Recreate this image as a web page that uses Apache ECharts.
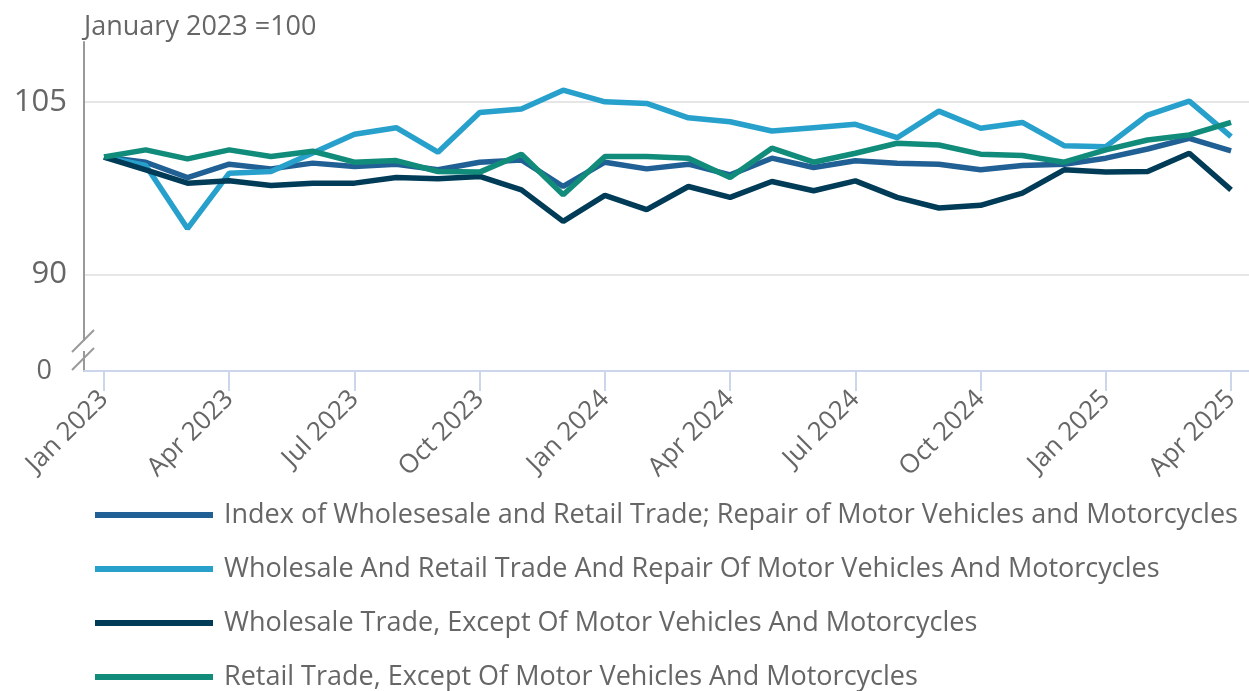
<!DOCTYPE html>
<html>
<head>
<meta charset="utf-8">
<script src="https://cdn.jsdelivr.net/npm/echarts@6/dist/echarts.min.js"></script>
<style>
  html, body { margin: 0; padding: 0; background: #fff; }
  #chart { width: 1249px; height: 691px; }
</style>
</head>
<body>
<div id="chart"></div>
<script>
var months = [
  'Jan 2023', 'Feb 2023', 'Mar 2023', 'Apr 2023', 'May 2023', 'Jun 2023', 'Jul 2023',
  'Aug 2023', 'Sep 2023', 'Oct 2023', 'Nov 2023', 'Dec 2023', 'Jan 2024', 'Feb 2024',
  'Mar 2024', 'Apr 2024', 'May 2024', 'Jun 2024', 'Jul 2024', 'Aug 2024', 'Sep 2024',
  'Oct 2024', 'Nov 2024', 'Dec 2024', 'Jan 2025', 'Feb 2025', 'Mar 2025', 'Apr 2025'
];
var tickLabels = ['Jan 2023', 'Apr 2023', 'Jul 2023', 'Oct 2023', 'Jan 2024',
  'Apr 2024', 'Jul 2024', 'Oct 2024', 'Jan 2025', 'Apr 2025'];

var seriesNames = [
  'Index of Wholesesale and Retail Trade; Repair of Motor Vehicles and Motorcycles',
  'Wholesale And Retail Trade And Repair Of Motor Vehicles And Motorcycles',
  'Wholesale Trade, Except Of Motor Vehicles And Motorcycles',
  'Retail Trade, Except Of Motor Vehicles And Motorcycles'
];
var indexAll = [100.2, 99.75, 98.42, 99.58, 99.17, 99.67, 99.37, 99.58, 99.09, 99.75,
  99.95, 97.64, 99.75, 99.17, 99.58, 98.65, 100.1, 99.29, 99.87, 99.67, 99.58, 99.09,
  99.46, 99.58, 100.1, 100.9, 101.83, 100.73];
var wholesaleRetail = [100.2, 99.46, 93.98, 98.8, 98.94, 100.56, 102.18, 102.75, 100.62,
  104.08, 104.37, 106.01, 105.0, 104.86, 103.61, 103.27, 102.46, 102.75, 103.04, 101.88,
  104.19, 102.7, 103.21, 101.19, 101.1, 103.85, 105.06, 101.97];
var wholesale = [100.2, 99.09, 97.93, 98.13, 97.73, 97.93, 97.93, 98.42, 98.31, 98.51,
  97.35, 94.61, 96.86, 95.62, 97.64, 96.69, 98.07, 97.27, 98.13, 96.69, 95.77, 96.0,
  97.07, 99.09, 98.89, 98.94, 100.53, 97.35];
var retail = [100.2, 100.82, 100.04, 100.82, 100.24, 100.7, 99.75, 99.89, 98.94, 98.89,
  100.45, 96.92, 100.24, 100.24, 100.1, 98.42, 100.97, 99.75, 100.53, 101.4, 101.25,
  100.45, 100.33, 99.75, 100.82, 101.68, 102.12, 103.21];

var colors = ['#206095', '#27a0cc', '#003c57', '#118c7b'];
var textColor = '#666';
var font = 'Open Sans';

function pairs(arr) {
  return arr.map(function (v, i) { return [i, v]; });
}

var chart = echarts.init(document.getElementById('chart'));
var option = {
  animation: false,
  textStyle: { fontFamily: font },
  grid: { left: 84, right: 0, top: 42, bottom: 320, containLabel: false },
  title: {
    text: 'January 2023 =100',
    left: 79,
    top: 9,
    textStyle: { fontFamily: font, fontSize: 27, fontWeight: 'normal', color: textColor }
  },
  legend: {
    orient: 'vertical',
    left: 95,
    top: 501,
    padding: 0,
    icon: 'rect',
    itemWidth: 118,
    itemHeight: 6,
    itemGap: 26,
    data: seriesNames,
    textStyle: { fontFamily: font, fontSize: 27, color: textColor, lineHeight: 28, padding: [0, 0, 0, 6] }
  },
  xAxis: {
    type: 'value',
    min: -0.479,
    max: 27.43,
    axisLine: { show: true, onZero: false, lineStyle: { color: '#ccd6eb', width: 2 } },
    axisTick: {
      show: true,
      length: 20,
      customValues: [0, 3, 6, 9, 12, 15, 18, 21, 24, 27],
      lineStyle: { color: '#ccd6eb', width: 2 }
    },
    axisLabel: {
      customValues: [0, 3, 6, 9, 12, 15, 18, 21, 24, 27],
      rotate: 45,
      margin: 24,
      fontSize: 26,
      fontFamily: font,
      color: textColor,
      formatter: function (v) { return tickLabels[Math.round(v / 3)]; }
    },
    splitLine: { show: false }
  },
  yAxis: {
    type: 'value',
    min: 81.6,
    max: 110.2,
    axisLine: { show: true, onZero: false, lineStyle: { color: '#999', width: 2 } },
    axisTick: { show: false, customValues: [90, 105] },
    splitLine: { show: true, lineStyle: { color: '#e6e6e6', width: 2 } },
    axisLabel: {
      customValues: [81.6, 90, 105],
      margin: 17,
      fontSize: 31,
      fontFamily: font,
      color: textColor,
      formatter: function (v) { return v < 85 ? '{z|0}' : String(v); },
      rich: { z: { fontSize: 27, fontFamily: font, color: textColor, padding: [0, 15, 0, 0] } }
    }
  },
  graphic: [
    { type: 'rect', z: 100, shape: { x: 79, y: 341, width: 10, height: 10 }, style: { fill: '#fff' } },
    { type: 'line', z: 101, shape: { x1: 72, y1: 352, x2: 94, y2: 330 }, style: { stroke: '#999', lineWidth: 2 } },
    { type: 'line', z: 101, shape: { x1: 72, y1: 370, x2: 94, y2: 348 }, style: { stroke: '#999', lineWidth: 2 } }
  ],
  series: [indexAll, wholesaleRetail, wholesale, retail].map(function (arr, k) {
    return {
      name: seriesNames[k],
      type: 'line',
      data: pairs(arr),
      showSymbol: false,
      symbol: 'none',
      color: colors[k],
      lineStyle: { width: 5.5, color: colors[k] },
      emphasis: { disabled: true }
    };
  })
};
chart.setOption(option);
</script>
</body>
</html>
